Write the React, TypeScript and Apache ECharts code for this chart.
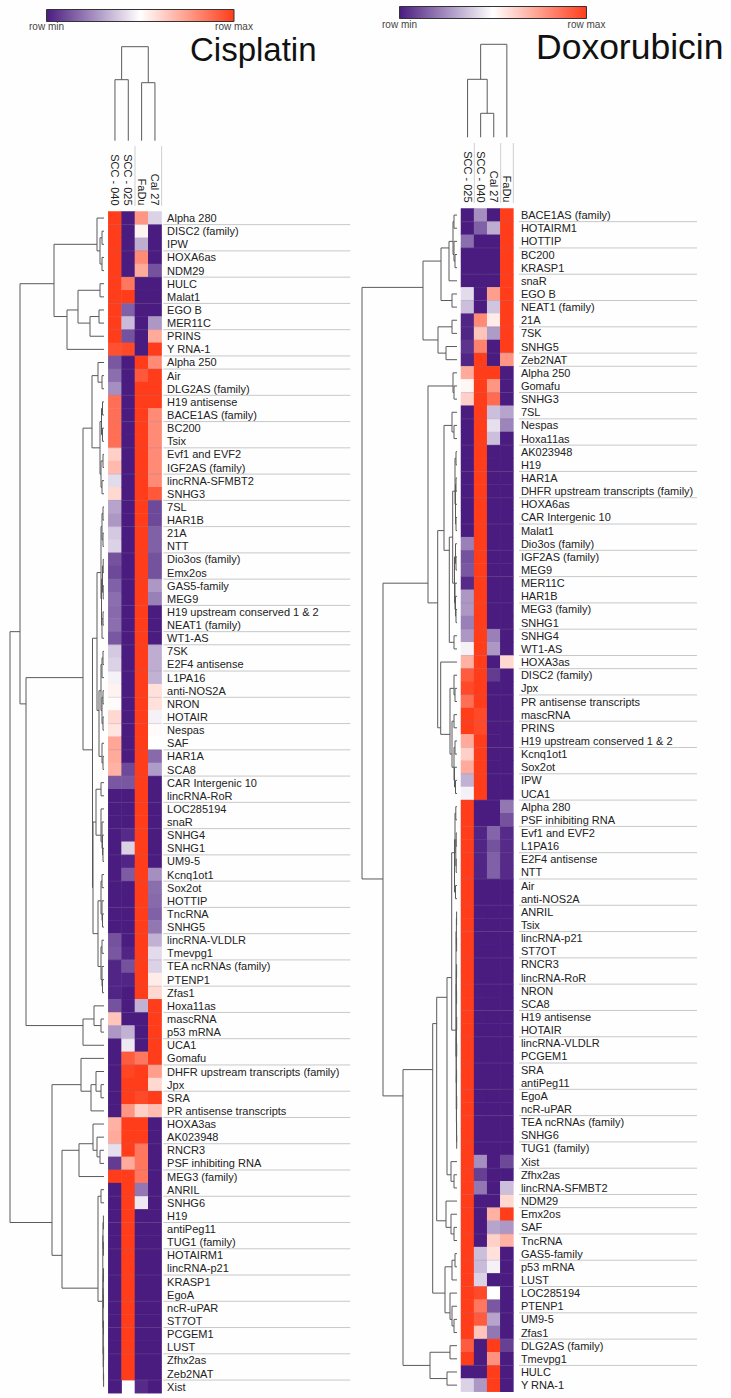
import React, { useEffect, useRef } from "react";
import * as echarts from "echarts";

const FONT = "'Liberation Sans', Arial, sans-serif";

// ---------- Cisplatin ----------
const cisplatinColumns = ["SCC - 040", "SCC - 025", "FaDu", "Cal 27"];
const cisplatinRows = [
  "Alpha 280", "DISC2 (family)", "IPW", "HOXA6as", "NDM29", "HULC", "Malat1", "EGO B", "MER11C", "PRINS", "Y RNA-1",
  "Alpha 250", "Air", "DLG2AS (family)", "H19 antisense", "BACE1AS (family)", "BC200", "Tsix", "Evf1 and EVF2", "IGF2AS (family)", "lincRNA-SFMBT2", "SNHG3",
  "7SL", "HAR1B", "21A", "NTT", "Dio3os (family)", "Emx2os", "GAS5-family", "MEG9", "H19 upstream conserved 1 & 2", "NEAT1 (family)", "WT1-AS",
  "7SK", "E2F4 antisense", "L1PA16", "anti-NOS2A", "NRON", "HOTAIR", "Nespas", "SAF", "HAR1A", "SCA8", "CAR Intergenic 10", "lincRNA-RoR",
  "LOC285194", "snaR", "SNHG4", "SNHG1", "UM9-5", "Kcnq1ot1", "Sox2ot", "HOTTIP", "TncRNA", "SNHG5", "lincRNA-VLDLR", "Tmevpg1", "TEA ncRNAs (family)", "PTENP1", "Zfas1",
  "Hoxa11as", "mascRNA", "p53 mRNA", "UCA1", "Gomafu", "DHFR upstream transcripts (family)", "Jpx", "SRA", "PR antisense transcripts",
  "HOXA3as", "AK023948", "RNCR3", "PSF inhibiting RNA", "MEG3 (family)", "ANRIL", "SNHG6",
  "H19", "antiPeg11", "TUG1 (family)", "HOTAIRM1", "lincRNA-p21", "KRASP1", "EgoA", "ncR-uPAR", "ST7OT", "PCGEM1", "LUST", "Zfhx2as", "Zeb2NAT", "Xist",
];
const cisplatinScc040 = [
  1, 1, 1, 1, 1, 1, 1, 1, 1, 1, 0.95,
  0.13, 0.18, 0.25, 0.87, 0.87, 0.87, 0.87, 0.62, 0.68, 0.42, 0.6,
  0.3, 0.27, 0.38, 0.4, 0.12, 0.1, 0.15, 0.18, 0.17, 0.18, 0.13,
  0.38, 0.4, 0.47, 0.53, 0.51, 0.6, 0.57, 0.73, 0.72, 0.7, 0.13, 0,
  0, 0, 0, 0, 0, 0, 0, 0, 0, 0, 0.12, 0.13, 0.02, 0.02, 0.02,
  0.12, 0.65, 0.27, 0, 0, 0, 0, 0, 0,
  0.7, 0.72, 0.43, 0.07, 1, 0, 0,
  0, 0, 0, 0, 0, 0, 0, 0, 0, 0, 0, 0, 0, 0,
];
const cisplatinScc025 = [
  0, 0, 0, 0, 0, 0.85, 1, 0.15, 0.35, 0.12, 0.97,
  0, 0, 0, 0, 0, 0, 0, 0, 0, 0, 0,
  0, 0, 0, 0, 0, 0, 0, 0, 0, 0, 0,
  0, 0, 0, 0, 0, 0, 0, 0, 0, 0.1, 0.13,
  0, 0, 0, 0.03, 0.4, 0.02, 0.14, 0, 0, 0, 0, 0, 0.02, 0.12, 0.02,
  0, 0, 0, 0.33, 0.45, 0.92, 0.98, 1, 1,
  0.77, 1, 1, 1, 0.72, 1, 1,
  1, 1, 1, 1, 1, 1, 1, 1, 1, 1, 1, 1, 1, 1,
];
const cisplatinFadu = [
  0.77, 0.53, 0.32, 0.8, 0.72, 0, 0, 0, 0, 0, 0,
  1, 0.93, 1, 1, 1, 1, 1, 1, 1, 1, 1,
  1, 1, 1, 1, 1, 1, 1, 1, 1, 1, 1,
  1, 1, 1, 1, 1, 1, 1, 1, 1, 1, 1, 1,
  1, 1, 1, 1, 1, 1, 1, 1, 1, 1, 1, 1, 1, 1, 1,
  0.33, 0, 0, 0, 0.85, 1, 1, 0.97, 0.62,
  1, 1, 0.85, 0.85, 0.85, 0.2, 0.45,
  0, 0, 0, 0, 0, 0, 0, 0, 0, 0, 0, 0, 0, 0.03,
];
const cisplatinCal27 = [
  0.4, 0, 0, 0, 0.12, 0, 0, 0, 0.27, 0.72, 1,
  0.8, 1, 1, 1, 0.8, 0.8, 0.8, 0.8, 0.8, 0.8, 0.93,
  0.1, 0.1, 0.15, 0.15, 0.12, 0.12, 0.27, 0.22, 0, 0, 0,
  0.32, 0.32, 0.33, 0.58, 0.58, 0.47, 0.51, 0.5, 0.17, 0.28, 0, 0,
  0, 0, 0, 0, 0, 0.25, 0.18, 0.17, 0.15, 0.2, 0.33, 0.42, 0.4, 0.55, 0.6,
  1, 1, 1, 1, 1, 0.75, 0.6, 1, 0.67,
  0, 0, 0, 0, 0, 0, 0,
  0, 0, 0, 0, 0, 0, 0, 0, 0, 0, 0, 0, 0, 0,
];
const cisplatinDividers = [
  1, 3, 5, 7, 9, 11, 12, 14, 16, 18, 20, 22, 24, 26, 28, 30, 32, 33, 35, 37, 39, 41, 43, 45, 47, 49, 51, 53, 55, 57, 59, 61, 63, 65, 67, 69, 71, 73, 75, 77, 79, 81, 83, 85, 87, 89,
];
// Nested merges: [distance, left, right]; a bare number is a row of the heatmap.
const cisplatinRowTree: any = [94,
  [84,
    [50,
      [7, 1, [4, [2, 2, 3], [2, 4, 5]]],
      [37, [26, [4, 6, 7], [14, [5, 8, 9], 10]], 11]],
    [78,
      [21,
        [12,
          [6, 12, [2, 13, 14]],
          [4, [2.5, [1.5, 15, 16], [1.5, 17, 18]], [3, [1, 19, 20], [2, 21, 22]]]],
        [11.5,
          [7,
            [3, [2, [1, 23, 24], [1, 25, 26]], [2.5, [1.5, [0.8, 27, 28], [0.8, 29, 30]], [2, [1, 31, 32], 33]]],
            [5, [3, [2, [1, 34, 35], 36], [2, [1, 37, 38], [1, 39, 40]]], [2, 41, [1, 42, 43]]]],
          [11,
            [8, [3, 44, 45], [3, 46, [2, 47, [1.5, 48, [1, 49, 50]]]]],
            [6, [3, [2, 51, 52], [2, 53, [1.5, 54, 55]]], [3, [2, 56, 57], [2, 58, [1.5, 59, 60]]]]]]],
      [21, [10, 61, [3, 62, 63]], 64]]],
  [52,
    [23, 65, [13, [8, 66, [3, 67, 68]], 69]],
    [42,
      [25, [11, 70, [7, 71, [4, 72, 73]]], 74],
      [6,
        [3, 75, 76],
        [1.2, [1, [0.6, 77, 78], [0.6, 79, 80]], [1, [0.8, [0.5, 81, 82], [0.5, 83, 84]], [0.8, [0.5, 85, 86], [0.6, [0.4, 87, 88], [0.4, 89, 90]]]]]]]]];
const cisplatinColumnTree: any = [94, [61, 1, 2], [58, 3, 4]];

// ---------- Doxorubicin ----------
const doxorubicinColumns = ["SCC - 025", "SCC - 040", "Cal 27", "FaDu"];
const doxorubicinRows = [
  "BACE1AS (family)", "HOTAIRM1", "HOTTIP", "BC200", "KRASP1", "snaR", "EGO B", "NEAT1 (family)", "21A", "7SK", "SNHG5", "Zeb2NAT",
  "Alpha 250", "Gomafu", "SNHG3", "7SL", "Nespas", "Hoxa11as",
  "AK023948", "H19", "HAR1A", "DHFR upstream transcripts (family)", "HOXA6as", "CAR Intergenic 10", "Malat1",
  "Dio3os (family)", "IGF2AS (family)", "MEG9", "MER11C", "HAR1B", "MEG3 (family)", "SNHG1", "SNHG4", "WT1-AS",
  "HOXA3as", "DISC2 (family)", "Jpx", "PR antisense transcripts", "mascRNA", "PRINS", "H19 upstream conserved 1 & 2", "Kcnq1ot1", "Sox2ot", "IPW", "UCA1",
  "Alpha 280", "PSF inhibiting RNA", "Evf1 and EVF2", "L1PA16", "E2F4 antisense", "NTT",
  "Air", "anti-NOS2A", "ANRIL", "Tsix", "lincRNA-p21", "ST7OT", "RNCR3", "lincRNA-RoR", "NRON", "SCA8", "H19 antisense", "HOTAIR", "lincRNA-VLDLR", "PCGEM1", "SRA", "antiPeg11", "EgoA", "ncR-uPAR", "TEA ncRNAs (family)", "SNHG6", "TUG1 (family)",
  "Xist", "Zfhx2as", "lincRNA-SFMBT2", "NDM29", "Emx2os", "SAF", "TncRNA",
  "GAS5-family", "p53 mRNA", "LUST", "LOC285194", "PTENP1", "UM9-5", "Zfas1",
  "DLG2AS (family)", "Tmevpg1", "HULC", "Y RNA-1",
];
const doxorubicinScc025 = [
  0, 0, 0.18, 0, 0, 0, 0.42, 0.36, 0.02, 0.02, 0.05, 0.02,
  0.72, 0.52, 0.62, 0, 0, 0,
  0, 0, 0, 0, 0, 0, 0,
  0.22, 0.12, 0.13, 0.03, 0.27, 0.27, 0.22, 0.27, 0.47,
  0.7, 0.92, 0.97, 0.87, 1, 1, 0.72, 0.62, 0.72, 0.33, 0.47,
  1, 1, 1, 1, 1, 1,
  1, 1, 1, 1, 1, 1, 1, 1, 1, 1, 1, 1, 1, 1, 1, 1, 1, 1, 1, 1, 1,
  1, 1, 1, 1, 1, 1, 1,
  1, 1, 1, 1, 1, 1, 1,
  0.92, 1, 0, 0.4,
];
const doxorubicinScc040 = [
  0.25, 0.15, 0, 0, 0, 0, 0, 0, 0.8, 0.65, 0.82, 1,
  1, 1, 1, 1, 1, 1,
  1, 1, 1, 1, 1, 1, 1,
  1, 1, 1, 1, 1, 1, 1, 1, 1,
  1, 1, 1, 1, 0.97, 0.97, 1, 1, 1, 1, 1,
  0, 0, 0.02, 0.02, 0.02, 0.02,
  0, 0, 0, 0, 0, 0, 0, 0, 0, 0, 0, 0, 0, 0, 0, 0, 0, 0, 0, 0, 0,
  0.25, 0.08, 0.2, 0, 0, 0, 0,
  0.36, 0.35, 0.4, 0.97, 0.85, 0.92, 0.65,
  0, 0, 0, 0.27,
];
const doxorubicinCal27 = [
  0, 0.32, 0, 0, 0, 0, 0.75, 0.37, 0.55, 0.28, 0, 0,
  1, 0.77, 0.88, 0.36, 0.43, 0.36,
  0, 0, 0, 0, 0, 0, 0,
  0, 0, 0, 0, 0, 0, 0, 0.22, 0.27,
  0, 0.07, 0, 0, 0, 0, 0, 0, 0, 0, 0,
  0, 0, 0.16, 0.12, 0.15, 0.15,
  0, 0, 0, 0, 0, 0, 0, 0, 0, 0, 0, 0, 0, 0, 0, 0, 0, 0, 0, 0, 0,
  0, 0, 0, 0, 0.7, 0.3, 0.62,
  0.58, 0.47, 0, 0.5, 0.13, 0.3, 0.2,
  1, 0.78, 1, 1,
];
const doxorubicinFadu = [
  1, 1, 1, 1, 1, 1, 1, 1, 1, 1, 1, 0.77,
  0, 0, 0, 0.3, 0.23, 0,
  0, 0, 0, 0, 0, 0, 0,
  0, 0, 0, 0, 0, 0, 0, 0, 0,
  0.6, 0, 0, 0, 0, 0, 0, 0, 0, 0, 0,
  0.2, 0.12, 0.03, 0.03, 0.03, 0.03,
  0, 0, 0, 0, 0, 0, 0, 0, 0, 0, 0, 0, 0, 0, 0, 0, 0, 0, 0, 0, 0,
  0.1, 0, 0.36, 0.6, 1, 0.27, 0.7,
  0, 0, 0, 0, 0, 0, 0,
  0.08, 0, 0, 0,
];
const doxorubicinDividers = [
  1, 3, 5, 7, 9, 11, 12, 14, 16, 18, 20, 22, 24, 26, 28, 30, 32, 34, 35, 37, 39, 41, 43, 45, 47, 49, 51, 53, 55, 57, 59, 61, 63, 65, 67, 69, 71, 73, 75, 76, 78, 80, 82, 84, 86, 88,
];
const doxorubicinRowTree: any = [95,
  [34,
    [16, [8, [4, [3, 1, 2], [3, 3, [2, 4, 5]]], 6], [5, 7, 8]],
    [19, [5, 9, 10], [11, 11, 12]]],
  [74,
    [29,
      [4, 13, [3, 14, 15]],
      [19.3,
        [13,
          [5, 16, [3, 17, 18]],
          [7.7,
            [4.3,
              [2, [1, 19, 20], [1.5, [1, 21, 22], [1.5, 23, [1, 24, 25]]]],
              [2.5, [1.5, 26, [1, 27, 28]], [2, 29, [1.5, 30, [1, 31, 32]]]]],
            [3, 33, 34]]],
        [16.3,
          35,
          [7,
            [3, 36, [2, 37, 38]],
            [5, [3, 39, 40], [3, [2, 41, 42], [2.5, 43, [1.5, 44, 45]]]]]]]],
    [54,
      [24.3,
        [20.3,
          [10,
            [5.3,
              [2.5, [2, [1.2, 46, 47], [1.2, [0.8, 48, 49], [0.8, 50, 51]]], [1.5, 52, 53]],
              [1, [0.6, [0.4, 54, 55], [0.4, 56, 57]], [0.8, [0.6, [0.4, 58, 59], [0.4, 60, 61]], [0.7, [0.5, [0.3, 62, 63], [0.3, 64, 65]], [0.6, [0.4, 66, 67], [0.5, [0.3, 68, 69], [0.4, 70, [0.3, 71, 72]]]]]]]],
            [6, 73, [3, 74, 75]]],
          [11, 76, [6, 77, [3, 78, 79]]]],
        [12, [5, [2, 80, 81], 82], [7, 83, [5, 84, [3, 85, 86]]]]],
      [27, [7, 87, 88], [10, 89, 90]]]]];
const doxorubicinColumnTree: any = [93, [58, 1, [24, 2, 3]], 4];

// ---------- Colour legend ----------
const colorRange = ["#4a1c80", "#ffffff", "#ff3d1a"];
const legendLabels = ["row min", "row max"];

function heatData(columns: number[][]) {
  const out: number[][] = [];
  columns.forEach((col, x) => col.forEach((v, y) => out.push([x, y, v])));
  return out;
}

// Flattens a merge tree into [dist1, pos1, dist2, pos2] segments; pos is the mean of the node's leaves.
function treeSegments(tree: any) {
  const segs: number[][] = [];
  const walk = (n: any): { d: number; leaves: number[] } => {
    if (typeof n === "number") return { d: 0, leaves: [n] };
    const a = walk(n[1]);
    const b = walk(n[2]);
    const mean = (l: number[]) => l.reduce((s, v) => s + v, 0) / l.length;
    const pa = mean(a.leaves);
    const pb = mean(b.leaves);
    segs.push([n[0], pa, n[0], pb]);
    segs.push([a.d, pa, n[0], pa]);
    segs.push([b.d, pb, n[0], pb]);
    return { d: n[0], leaves: a.leaves.concat(b.leaves) };
  };
  walk(tree);
  return segs;
}

function treeSeries(tree: any, axisIndex: number, swap: boolean) {
  return {
    type: "custom",
    xAxisIndex: axisIndex,
    yAxisIndex: axisIndex,
    silent: true,
    clip: false,
    data: treeSegments(tree),
    renderItem: (_p: any, api: any) => {
      const v = [api.value(0), api.value(1), api.value(2), api.value(3)];
      const a = swap ? api.coord([v[1], v[0]]) : api.coord([v[0], v[1]]);
      const b = swap ? api.coord([v[3], v[2]]) : api.coord([v[2], v[3]]);
      return {
        type: "line",
        shape: { x1: a[0], y1: a[1], x2: b[0], y2: b[1] },
        style: { stroke: "#5a5a5a", lineWidth: 1, fill: "none" },
      };
    },
  };
}

function dividerSeries(rows: number[], axisIndex: number, from: number, to: number, stroke: string) {
  return {
    type: "custom",
    xAxisIndex: axisIndex,
    yAxisIndex: axisIndex,
    silent: true,
    clip: false,
    data: rows.map((r) => [r + 0.5]),
    renderItem: (_p: any, api: any) => {
      const a = api.coord([from, api.value(0)]);
      const b = api.coord([to, api.value(0)]);
      return {
        type: "line",
        shape: { x1: a[0], y1: a[1], x2: b[0], y2: b[1] },
        style: { stroke, lineWidth: 1, fill: "none" },
      };
    },
  };
}

function legendGraphic(x: number, y: number, w: number, h: number, labelY: number) {
  return [
    {
      type: "rect",
      shape: { x, y, width: w, height: h },
      style: {
        stroke: "#333",
        lineWidth: 1,
        fill: new echarts.graphic.LinearGradient(0, 0, 1, 0, [
          { offset: 0, color: colorRange[0] },
          { offset: 0.5, color: colorRange[1] },
          { offset: 1, color: colorRange[2] },
        ]),
      },
    },
    { type: "text", x, y: labelY, style: { text: legendLabels[0], fontFamily: FONT, fontSize: 10, fill: "#444", align: "center", verticalAlign: "middle" } },
    { type: "text", x: x + w, y: labelY, style: { text: legendLabels[1], fontFamily: FONT, fontSize: 10, fill: "#444", align: "center", verticalAlign: "middle" } },
  ];
}

function vLine(x: number, y1: number, y2: number) {
  return { type: "line", shape: { x1: x, y1, x2: x, y2 }, style: { stroke: "#cfcfcf", lineWidth: 1 } };
}

function heatAxes(columns: string[], rows: string[], gridIndex: number, yMargin: number) {
  return {
    x: {
      type: "category",
      gridIndex,
      data: columns,
      position: "top",
      axisLine: { show: false },
      axisTick: { show: false },
      splitLine: { show: false },
      axisLabel: { rotate: 90, margin: 6, interval: 0, fontFamily: FONT, fontSize: 11, color: "#222" },
    },
    y: {
      type: "category",
      gridIndex,
      data: rows,
      inverse: true,
      position: "right",
      axisLine: { show: false },
      axisTick: { show: false },
      splitLine: { show: false },
      axisLabel: { margin: yMargin, interval: 0, fontFamily: FONT, fontSize: 11, color: "#222" },
    },
  };
}

function hiddenValue(gridIndex: number, min: number, max: number, inverse: boolean) {
  return { type: "value", gridIndex, min, max, inverse, show: false, scale: true };
}

function heatSeries(data: number[][], idx: number) {
  return {
    type: "heatmap",
    xAxisIndex: idx,
    yAxisIndex: idx,
    data,
    silent: true,
    progressive: 0,
    itemStyle: { borderWidth: 0 },
    emphasis: { disabled: true },
  };
}

export default function App() {
  const ref = useRef<HTMLDivElement>(null);
  useEffect(() => {
    document.body.style.margin = "0";
    const chart = echarts.init(ref.current!, null, { renderer: "svg" });
    const cis = heatAxes(cisplatinColumns, cisplatinRows, 0, 5.5);
    const dox = heatAxes(doxorubicinColumns, doxorubicinRows, 1, 7.5);
    const leftTop = 211.5;
    const rightTop = 208.5;
    const rowsH = 1181.7;
    chart.setOption({
      animation: false,
      backgroundColor: "#fefefe",
      grid: [
        { left: 108.3, top: leftTop, width: 53.3, height: rowsH },
        { left: 461, top: rightTop, width: 52.4, height: 1183.2 },
        { left: 0, top: leftTop, width: 104, height: rowsH },
        { left: 350, top: rightTop, width: 107, height: 1183.2 },
        { left: 108.3, top: 40.7, width: 53.3, height: 100 },
        { left: 461, top: 37.3, width: 52.4, height: 100 },
        { left: 108.3, top: leftTop, width: 242, height: rowsH },
        { left: 461, top: rightTop, width: 236, height: 1183.2 },
      ],
      xAxis: [
        cis.x,
        dox.x,
        hiddenValue(2, 0, 104, true),
        hiddenValue(3, 0, 107, true),
        hiddenValue(4, 0.5, 4.5, false),
        hiddenValue(5, 0.5, 4.5, false),
        hiddenValue(6, 0, 242, false),
        hiddenValue(7, 0, 236, false),
      ],
      yAxis: [
        cis.y,
        dox.y,
        hiddenValue(2, 0.5, 90.5, true),
        hiddenValue(3, 0.5, 90.5, true),
        hiddenValue(4, 0, 100, false),
        hiddenValue(5, 0, 100, false),
        hiddenValue(6, 0.5, 90.5, true),
        hiddenValue(7, 0.5, 90.5, true),
      ],
      visualMap: {
        show: false,
        min: 0,
        max: 1,
        seriesIndex: [0, 1],
        dimension: 2,
        inRange: { color: colorRange },
      },
      series: [
        heatSeries(heatData([cisplatinScc040, cisplatinScc025, cisplatinFadu, cisplatinCal27]), 0),
        heatSeries(heatData([doxorubicinScc025, doxorubicinScc040, doxorubicinCal27, doxorubicinFadu]), 1),
        treeSeries(cisplatinRowTree, 2, false),
        treeSeries(doxorubicinRowTree, 3, false),
        treeSeries(cisplatinColumnTree, 4, true),
        treeSeries(doxorubicinColumnTree, 5, true),
        dividerSeries(cisplatinDividers, 6, 55, 242, "#c8c8c8"),
        dividerSeries(doxorubicinDividers, 7, 58, 236, "#c8c8c8"),
        dividerSeries(cisplatinDividers, 6, 0, 53.3, "rgba(140,120,150,0.25)"),
        dividerSeries(doxorubicinDividers, 7, 0, 52.4, "rgba(140,120,150,0.25)"),
      ],
      graphic: [
        ...legendGraphic(46.5, 9.5, 187.5, 12, 26.5),
        ...legendGraphic(399.5, 6.5, 187, 12, 24),
        { type: "text", x: 190, y: 49, style: { text: "Cisplatin", fontFamily: FONT, fontSize: 33, fill: "#111", align: "left", verticalAlign: "middle" } },
        { type: "text", x: 536, y: 47, style: { text: "Doxorubicin", fontFamily: FONT, fontSize: 35.5, fill: "#111", align: "left", verticalAlign: "middle" } },
        vLine(135, 146, 206),
        vLine(161.6, 146, 206),
        vLine(474.3, 143, 203),
        vLine(500.7, 143, 203),
        vLine(513.3, 143, 203),
      ],
    });
    return () => chart.dispose();
  }, []);
  return <div ref={ref} style={{ position: "absolute", left: 0, top: 0, width: 731, height: 1398 }} />;
}
